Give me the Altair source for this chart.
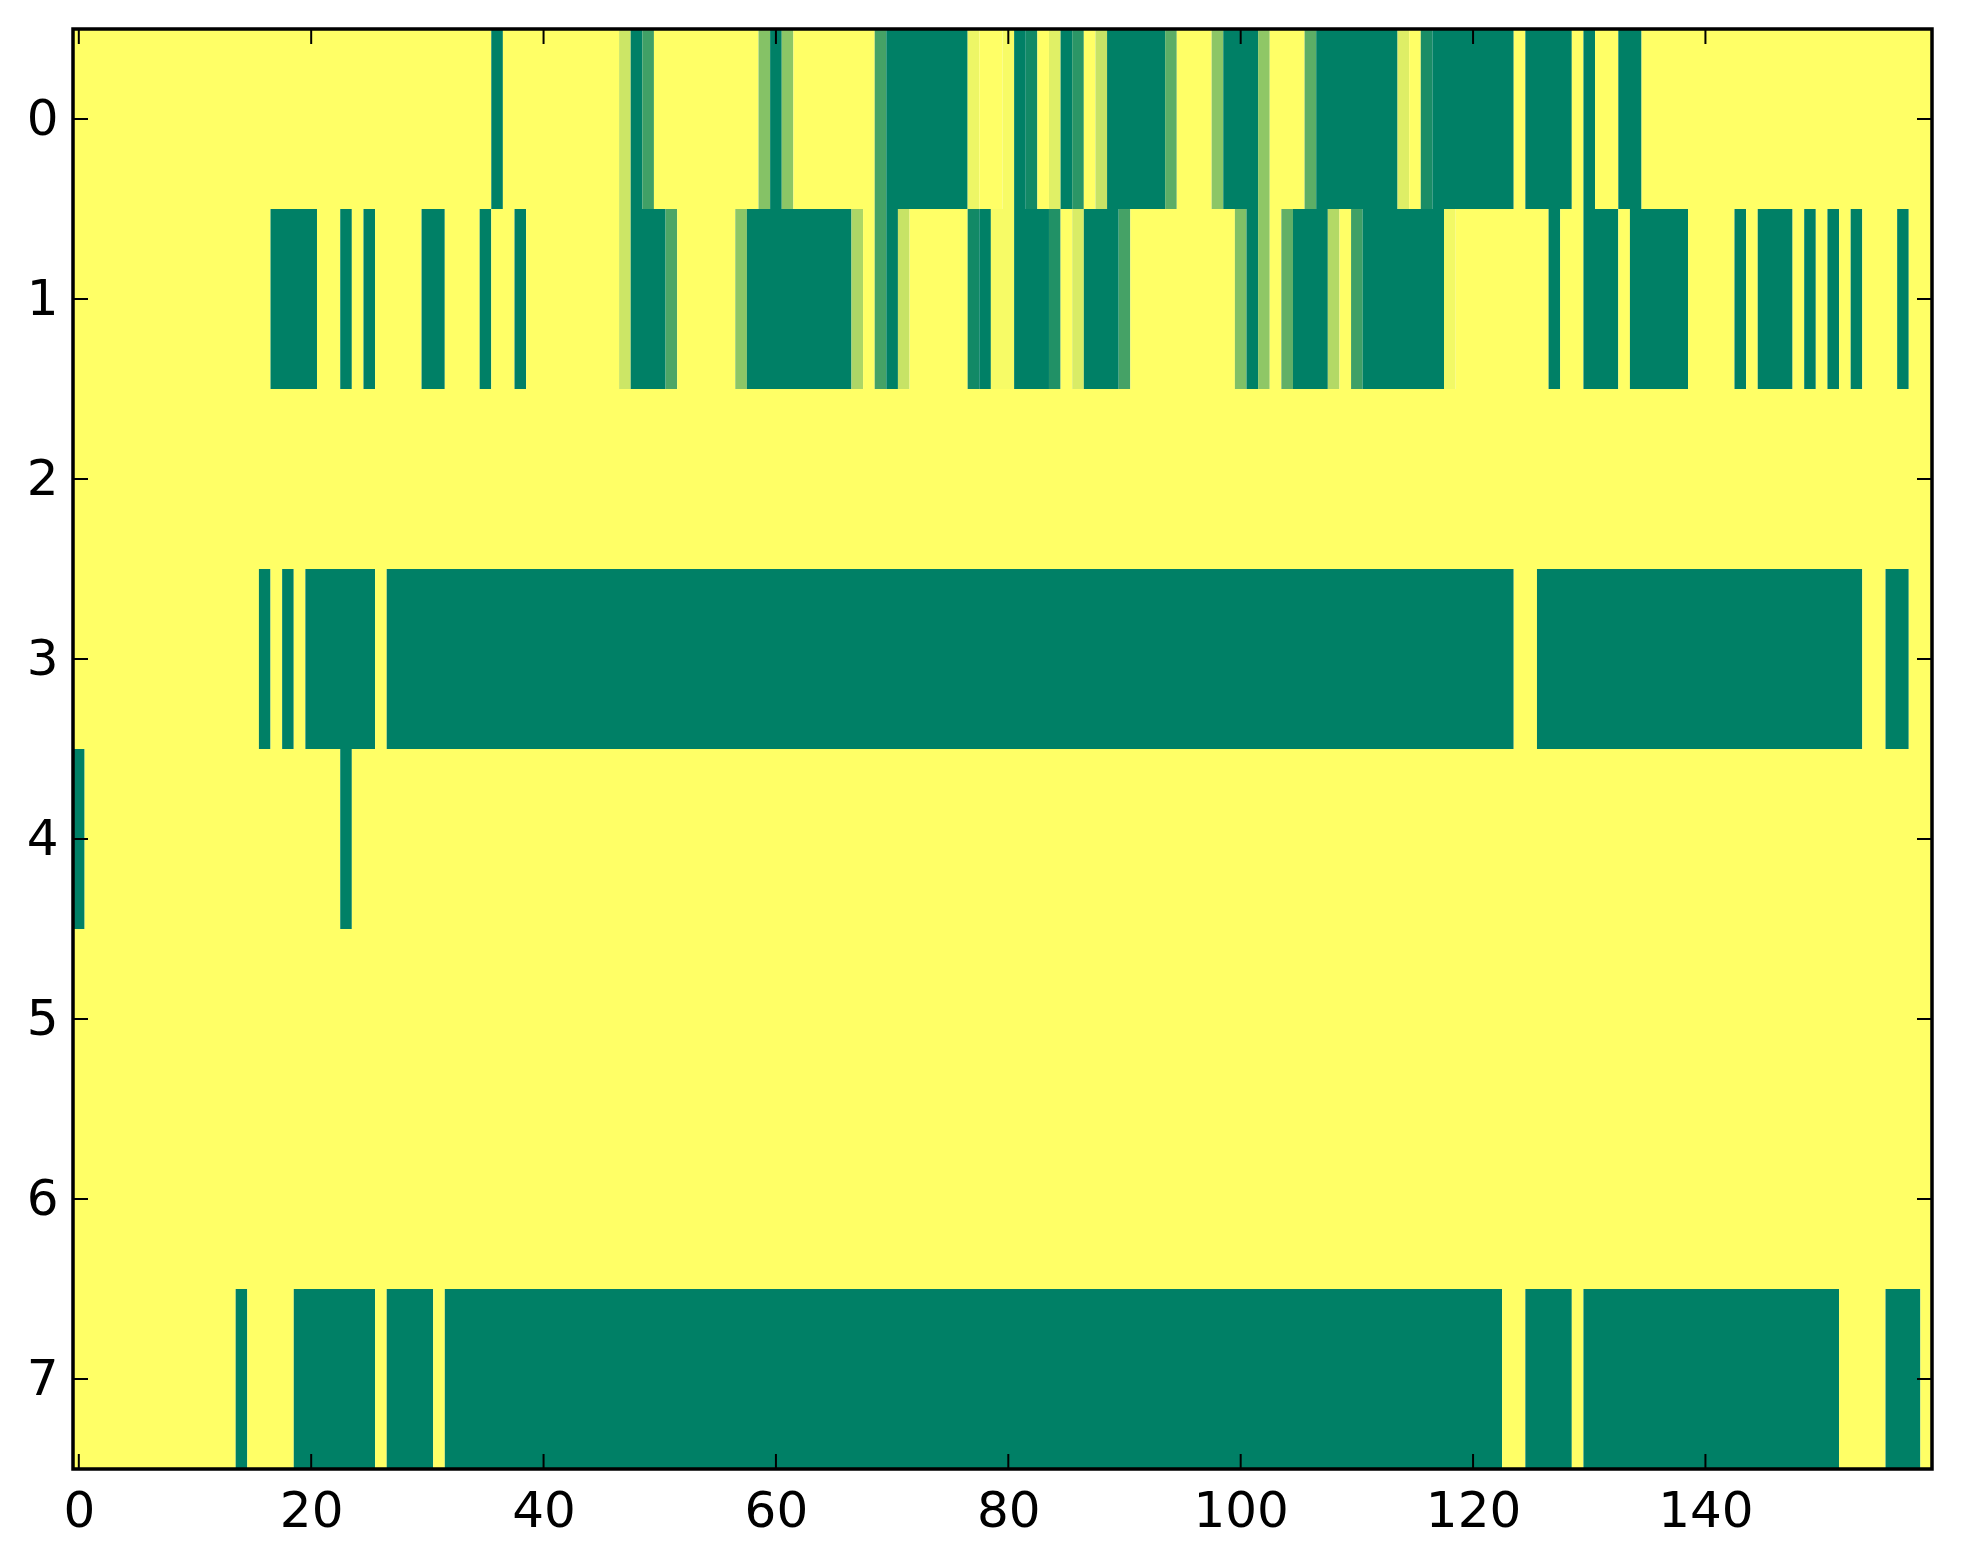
import altair as alt
import pandas as pd

# ---- data: 8 rows x 160 columns, values in [0, 1] ----
row0 = [
    1, 1, 1, 1, 1, 1, 1, 1, 1, 1, 1, 1, 1, 1, 1, 1, 1, 1, 1, 1,
    1, 1, 1, 1, 1, 1, 1, 1, 1, 1, 1, 1, 1, 1, 1, 1, 0, 1, 1, 1,
    1, 1, 1, 1, 1, 1, 1, 0.8, 0, 0.25, 1, 1, 1, 1, 1, 1, 1, 1, 1, 0.52,
    0, 0.55, 1, 1, 1, 1, 1, 1, 1, 0.27, 0, 0, 0, 0, 0, 0, 0, 0.93, 1, 1,
    0.97, 0, 0.07, 1, 0.88, 0, 0.17, 1, 0.78, 0, 0, 0, 0, 0, 0.36, 1, 1, 1, 0.55, 0,
    0, 0, 0.56, 1, 1, 1, 0.36, 0, 0, 0, 0, 0, 0, 0, 0.87, 1, 0.1, 0, 0, 0,
    0, 0, 0, 0, 1, 0, 0, 0, 0, 1, 0, 1, 1, 0, 0, 1, 1, 1, 1, 1,
    1, 1, 1, 1, 1, 1, 1, 1, 1, 1, 1, 1, 1, 1, 1, 1, 1, 1, 1, 1,
]
row1 = [
    1, 1, 1, 1, 1, 1, 1, 1, 1, 1, 1, 1, 1, 1, 1, 1, 1, 0, 0, 0,
    0, 1, 1, 0, 1, 0, 1, 1, 1, 1, 0, 0, 1, 1, 1, 0, 1, 1, 0, 1,
    1, 1, 1, 1, 1, 1, 1, 0.8, 0, 0, 0, 0.3, 1, 1, 1, 1, 1, 0.55, 0, 0,
    0, 0, 0, 0, 0, 0, 0, 0.68, 1, 0.27, 0, 0.78, 1, 1, 1, 1, 1, 0.07, 0, 0.97,
    0.97, 0, 0, 0, 0.13, 1, 0.85, 0, 0, 0, 0.27, 1, 1, 1, 1, 1, 1, 1, 1, 1,
    0.5, 0, 0.56, 1, 0.38, 0, 0, 0, 0.7, 1, 0.25, 0, 0, 0, 0, 0, 0, 0, 0.95, 1,
    1, 1, 1, 1, 1, 1, 1, 0, 1, 1, 0, 0, 0, 1, 0, 0, 0, 0, 0, 1,
    1, 1, 1, 0, 1, 0, 0, 0, 1, 0, 1, 0, 1, 0, 1, 1, 1, 0, 1, 1,
]
row2 = [
    1, 1, 1, 1, 1, 1, 1, 1, 1, 1, 1, 1, 1, 1, 1, 1, 1, 1, 1, 1,
    1, 1, 1, 1, 1, 1, 1, 1, 1, 1, 1, 1, 1, 1, 1, 1, 1, 1, 1, 1,
    1, 1, 1, 1, 1, 1, 1, 1, 1, 1, 1, 1, 1, 1, 1, 1, 1, 1, 1, 1,
    1, 1, 1, 1, 1, 1, 1, 1, 1, 1, 1, 1, 1, 1, 1, 1, 1, 1, 1, 1,
    1, 1, 1, 1, 1, 1, 1, 1, 1, 1, 1, 1, 1, 1, 1, 1, 1, 1, 1, 1,
    1, 1, 1, 1, 1, 1, 1, 1, 1, 1, 1, 1, 1, 1, 1, 1, 1, 1, 1, 1,
    1, 1, 1, 1, 1, 1, 1, 1, 1, 1, 1, 1, 1, 1, 1, 1, 1, 1, 1, 1,
    1, 1, 1, 1, 1, 1, 1, 1, 1, 1, 1, 1, 1, 1, 1, 1, 1, 1, 1, 1,
]
row3 = [
    1, 1, 1, 1, 1, 1, 1, 1, 1, 1, 1, 1, 1, 1, 1, 1, 0, 1, 0, 1,
    0, 0, 0, 0, 0, 0, 1, 0, 0, 0, 0, 0, 0, 0, 0, 0, 0, 0, 0, 0,
    0, 0, 0, 0, 0, 0, 0, 0, 0, 0, 0, 0, 0, 0, 0, 0, 0, 0, 0, 0,
    0, 0, 0, 0, 0, 0, 0, 0, 0, 0, 0, 0, 0, 0, 0, 0, 0, 0, 0, 0,
    0, 0, 0, 0, 0, 0, 0, 0, 0, 0, 0, 0, 0, 0, 0, 0, 0, 0, 0, 0,
    0, 0, 0, 0, 0, 0, 0, 0, 0, 0, 0, 0, 0, 0, 0, 0, 0, 0, 0, 0,
    0, 0, 0, 0, 1, 1, 0, 0, 0, 0, 0, 0, 0, 0, 0, 0, 0, 0, 0, 0,
    0, 0, 0, 0, 0, 0, 0, 0, 0, 0, 0, 0, 0, 0, 1, 1, 0, 0, 1, 1,
]
row4 = [
    0, 1, 1, 1, 1, 1, 1, 1, 1, 1, 1, 1, 1, 1, 1, 1, 1, 1, 1, 1,
    1, 1, 1, 0, 1, 1, 1, 1, 1, 1, 1, 1, 1, 1, 1, 1, 1, 1, 1, 1,
    1, 1, 1, 1, 1, 1, 1, 1, 1, 1, 1, 1, 1, 1, 1, 1, 1, 1, 1, 1,
    1, 1, 1, 1, 1, 1, 1, 1, 1, 1, 1, 1, 1, 1, 1, 1, 1, 1, 1, 1,
    1, 1, 1, 1, 1, 1, 1, 1, 1, 1, 1, 1, 1, 1, 1, 1, 1, 1, 1, 1,
    1, 1, 1, 1, 1, 1, 1, 1, 1, 1, 1, 1, 1, 1, 1, 1, 1, 1, 1, 1,
    1, 1, 1, 1, 1, 1, 1, 1, 1, 1, 1, 1, 1, 1, 1, 1, 1, 1, 1, 1,
    1, 1, 1, 1, 1, 1, 1, 1, 1, 1, 1, 1, 1, 1, 1, 1, 1, 1, 1, 1,
]
row5 = list(row2)
row6 = list(row2)
row7 = [
    1, 1, 1, 1, 1, 1, 1, 1, 1, 1, 1, 1, 1, 1, 0, 1, 1, 1, 1, 0,
    0, 0, 0, 0, 0, 0, 1, 0, 0, 0, 0, 1, 0, 0, 0, 0, 0, 0, 0, 0,
    0, 0, 0, 0, 0, 0, 0, 0, 0, 0, 0, 0, 0, 0, 0, 0, 0, 0, 0, 0,
    0, 0, 0, 0, 0, 0, 0, 0, 0, 0, 0, 0, 0, 0, 0, 0, 0, 0, 0, 0,
    0, 0, 0, 0, 0, 0, 0, 0, 0, 0, 0, 0, 0, 0, 0, 0, 0, 0, 0, 0,
    0, 0, 0, 0, 0, 0, 0, 0, 0, 0, 0, 0, 0, 0, 0, 0, 0, 0, 0, 0,
    0, 0, 0, 1, 1, 0, 0, 0, 0, 1, 0, 0, 0, 0, 0, 0, 0, 0, 0, 0,
    0, 0, 0, 0, 0, 0, 0, 0, 0, 0, 0, 0, 1, 1, 1, 1, 0, 0, 0, 1,
]
rows = [row0, row1, row2, row3, row4, row5, row6, row7]

x_ticks = [0, 20, 40, 60, 80, 100, 120, 140]
y_ticks = [0, 1, 2, 3, 4, 5, 6, 7]

# ---- build a run-length table (merging equal neighbours avoids seams) ----
recs = []
for r, vals in enumerate(rows):
    start = 0
    n = len(vals)
    for c in range(1, n + 1):
        if c == n or vals[c] != vals[start]:
            recs.append(dict(x0=start - 0.5, x1=c - 0.5, y0=r - 0.5, y1=r + 0.5, v=vals[start]))
            start = c
df = pd.DataFrame(recs)

ncols = len(row0)
nrows = len(rows)
W, H = 1859, 1440
TICK = 15
FONT = "DejaVu Sans"
FS = 50

xscale = alt.Scale(domain=[-0.5, ncols - 0.5], nice=False, zero=False)
yscale = alt.Scale(domain=[-0.5, nrows - 0.5], nice=False, zero=False, reverse=True)

xaxis = alt.Axis(values=x_ticks, title=None, grid=False, domain=False,
                 tickSize=0, labelFont=FONT, labelFontSize=FS,
                 labelPadding=17, labelColor="black", labelFlush=False)
yaxis = alt.Axis(values=y_ticks, title=None, grid=False, domain=False,
                 tickSize=0, labelFont=FONT, labelFontSize=FS,
                 labelPadding=15, labelColor="black", labelFlush=False)

heat = alt.Chart(df).mark_rect().encode(
    x=alt.X("x0:Q", scale=xscale, axis=xaxis),
    x2="x1:Q",
    y=alt.Y("y0:Q", scale=yscale, axis=yaxis),
    y2="y1:Q",
    color=alt.Color("v:Q", legend=None,
                    scale=alt.Scale(domain=[0, 1], range=["#008066", "#ffff66"],
                                    interpolate="rgb")),
)

xt = pd.DataFrame({"t": x_ticks})
yt = pd.DataFrame({"t": y_ticks})

tick_style = dict(color="black", strokeWidth=2)

bottom_ticks = alt.Chart(xt).mark_rule(**tick_style).encode(
    x=alt.X("t:Q", scale=xscale, axis=xaxis), y=alt.value(H), y2=alt.value(H - TICK))
top_ticks = alt.Chart(xt).mark_rule(**tick_style).encode(
    x=alt.X("t:Q", scale=xscale, axis=xaxis), y=alt.value(0), y2=alt.value(TICK))
left_ticks = alt.Chart(yt).mark_rule(**tick_style).encode(
    y=alt.Y("t:Q", scale=yscale, axis=yaxis), x=alt.value(0), x2=alt.value(TICK))
right_ticks = alt.Chart(yt).mark_rule(**tick_style).encode(
    y=alt.Y("t:Q", scale=yscale, axis=yaxis), x=alt.value(W), x2=alt.value(W - TICK))

frame = alt.Chart(pd.DataFrame({"k": [0]})).mark_rect(
    filled=False, stroke="black", strokeWidth=3.5).encode(
    x=alt.value(0), x2=alt.value(W), y=alt.value(0), y2=alt.value(H))

chart = alt.layer(heat, bottom_ticks, top_ticks, left_ticks, right_ticks, frame).properties(
    width=W, height=H,
    autosize=alt.AutoSizeParams(type="none"),
    padding={"left": 65, "top": 21, "right": 12, "bottom": 70},
).configure_view(stroke=None).configure(background="white")

chart.save("out.html", embed_options={"renderer": "svg", "actions": False})
